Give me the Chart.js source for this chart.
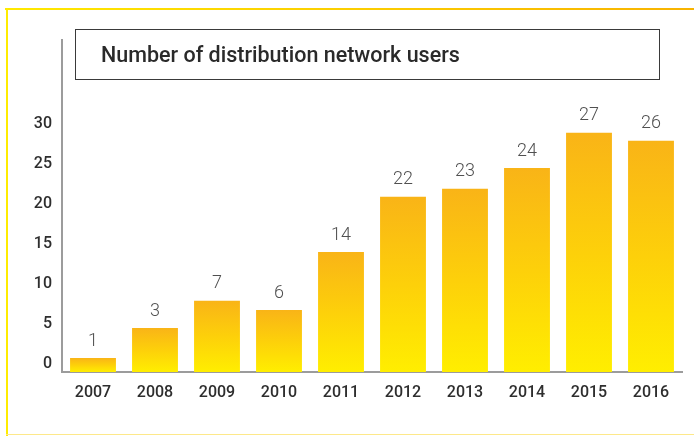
<!DOCTYPE html>
<html>
<head>
<meta charset="utf-8">
<script src="https://cdn.jsdelivr.net/npm/chart.js@4"></script>
<style>
    html, body { margin: 0; padding: 0; background: #fff; }
    .wrap { position: relative; width: 694px; height: 436px; overflow: hidden; }
    .frame_top { position: absolute; left: 5px; top: 8px; right: 0; height: 2px;
        background: linear-gradient(to right, #ffe900, #f8b300); }
    .frame_left { position: absolute; left: 6px; top: 8px; bottom: 0; width: 2px; background: #ffec00; }
    .frame_bottom { position: absolute; left: 6px; right: 0; bottom: 1px; height: 1px; background: #fde88a; }
    canvas { position: absolute; left: 0; top: 0; }
</style>
</head>
<body>
<div class="wrap">
    <div class="frame_top"></div>
    <div class="frame_left"></div>
    <div class="frame_bottom"></div>
    <canvas id="users-chart" width="694" height="436"></canvas>
</div>
<script>
// --- Данные ---
const years = ['2007', '2008', '2009', '2010', '2011', '2012', '2013', '2014', '2015', '2016'];
// высота столбцов, как они нарисованы на картинке (по шкале слева)
const barHeights = [0.75, 4.5, 7.9, 6.75, 14, 20.9, 21.9, 24.5, 28.9, 27.9];
// подписи над столбцами
const userCounts = [1, 3, 7, 6, 14, 22, 23, 24, 27, 26];
const yTicks = [0, 5, 10, 15, 20, 25, 30];
const chartTitle = 'Number of distribution network users';

const axisMin = -1;
const axisMax = 40.5;

// --- Градиент для каждого столбца ---
const barGradient = (context) => {
    const chart = context.chart;
    if (!chart.chartArea) return '#fdd000';
    const y = chart.scales.y;
    const top = y.getPixelForValue(barHeights[context.dataIndex]);
    const bottom = y.getPixelForValue(axisMin);
    const g = chart.ctx.createLinearGradient(0, top, 0, bottom);
    g.addColorStop(0, '#f9b417');
    g.addColorStop(0.5, '#fdd00a');
    g.addColorStop(1, '#ffee00');
    return g;
};

// --- Заголовок в рамке ---
const titleBox = {
    id: 'titleBox',
    afterDraw(chart) {
        const c = chart.ctx;
        c.save();
        c.strokeStyle = '#3a3a3a';
        c.lineWidth = 1;
        c.fillStyle = '#ffffff';
        c.fillRect(75.5, 29.5, 584, 50);
        c.strokeRect(75.5, 29.5, 584, 50);
        c.fillStyle = '#2a2a2a';
        c.font = '500 21.5px Roboto';
        c.textBaseline = 'alphabetic';
        c.textAlign = 'left';
        c.fillText(chartTitle, 101, 62);
        c.restore();
    }
};

// --- Подписи над столбцами ---
const valueLabels = {
    id: 'valueLabels',
    afterDatasetsDraw(chart) {
        const c = chart.ctx;
        const meta = chart.getDatasetMeta(0);
        c.save();
        c.fillStyle = '#505050';
        c.font = '300 18px Roboto';
        c.textAlign = 'center';
        c.textBaseline = 'middle';
        meta.data.forEach((bar, i) => {
            c.fillText(String(userCounts[i]), bar.x, bar.y - 17);
        });
        c.restore();
    }
};

const ctx = document.getElementById('users-chart').getContext('2d');
const usersChart = new Chart(ctx, {
    type: 'bar',
    data: {
        labels: years,
        datasets: [{
            data: barHeights,
            base: axisMin,
            backgroundColor: barGradient,
            borderWidth: 0,
            barPercentage: 0.74,
            categoryPercentage: 1
        }]
    },
    options: {
        responsive: false,
        animation: false,
        layout: { padding: { left: 0, top: 40, right: 12, bottom: 0 } },
        plugins: {
            legend: { display: false },
            tooltip: { enabled: false }
        },
        scales: {
            x: {
                grid: { display: false, drawTicks: false },
                border: { display: true, color: '#9c9c9c', width: 2 },
                ticks: {
                    color: '#2e2e2e',
                    font: { family: 'Roboto', size: 16, weight: '500' },
                    padding: 11,
                    maxRotation: 0
                },
                afterFit: (scale) => { scale.height = 64; }
            },
            y: {
                min: axisMin,
                max: axisMax,
                grid: { display: false, drawTicks: false },
                border: { display: true, color: '#9c9c9c', width: 2 },
                ticks: {
                    color: '#2e2e2e',
                    font: { family: 'Roboto', size: 16, weight: '500' },
                    padding: 10
                },
                afterBuildTicks: (scale) => {
                    scale.ticks = yTicks.map(v => ({ value: v }));
                },
                afterFit: (scale) => { scale.width = 62; }
            }
        }
    },
    plugins: [valueLabels, titleBox]
});
</script>
</body>
</html>
